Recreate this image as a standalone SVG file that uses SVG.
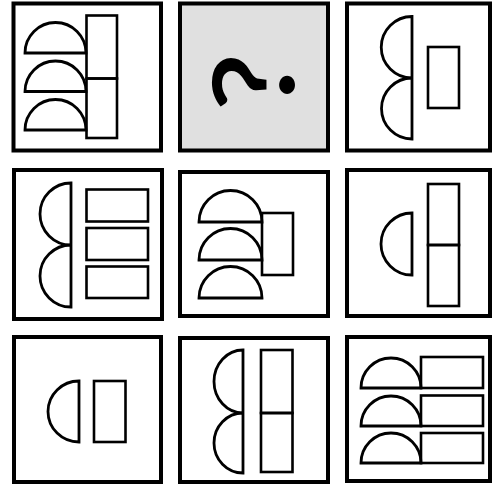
<svg xmlns="http://www.w3.org/2000/svg" width="493" height="491" viewBox="0 0 493 491">
<style>
.box{fill:#fff;stroke:#000;stroke-width:4}
.q{fill:#e0e0e0}
.s{fill:none;stroke:#000;stroke-width:2.8}
.r{fill:none;stroke:#000;stroke-width:2.6}
</style>
<rect width="493" height="491" fill="#fff"/>
<g id="cell1">
<rect class="box" x="13.5" y="3.5" width="147.5" height="147"/>
<path class="s" d="M25,53 A30.5,30.5 0 0 1 86,53 Z"/>
<path class="s" d="M25,91.5 A30.5,30.5 0 0 1 86,91.5 Z"/>
<path class="s" d="M25,130 A30.5,30.5 0 0 1 86,130 Z"/>
<rect class="r" x="86.5" y="15.5" width="30.5" height="63"/>
<rect class="r" x="86.5" y="78.5" width="30.5" height="59.5"/>
</g>
<g id="cell2">
<rect class="box q" x="180" y="3.5" width="148" height="147"/>
<text transform="translate(254,82) rotate(-90) scale(1.15,1)" x="0" y="39" text-anchor="middle" font-family="Lato, 'Liberation Sans', sans-serif" font-weight="normal" font-size="110" stroke="#000" stroke-width="2">?</text>
</g>
<g id="cell3">
<rect class="box" x="347" y="3.5" width="143" height="147"/>
<path class="s" d="M412,16.5 A30.5,30.5 0 0 0 412,78 A30.5,30.5 0 0 0 412,139 Z"/>
<rect class="r" x="428" y="47" width="31" height="61"/>
</g>
<g id="cell4">
<rect class="box" x="14" y="170" width="148" height="149"/>
<path class="s" d="M71,183 A31,31 0 0 0 71,245 A31,31 0 0 0 71,307 Z"/>
<rect class="r" x="86.5" y="189.5" width="61.5" height="32"/>
<rect class="r" x="86.5" y="228" width="61.5" height="32"/>
<rect class="r" x="86.5" y="266.5" width="61.5" height="31.5"/>
</g>
<g id="cell5">
<rect class="box" x="180" y="172" width="148" height="144"/>
<path class="s" d="M199,222 A31.5,31.5 0 0 1 262,222 Z"/>
<path class="s" d="M199,260 A31.5,31.5 0 0 1 262,260 Z"/>
<path class="s" d="M199,298 A31.5,31.5 0 0 1 262,298 Z"/>
<rect class="r" x="262" y="213" width="31" height="62"/>
</g>
<g id="cell6">
<rect class="box" x="347" y="170" width="143" height="146"/>
<path class="s" d="M412,213 A31,31 0 0 0 412,275 Z"/>
<rect class="r" x="428" y="184" width="31" height="61"/>
<rect class="r" x="428" y="245" width="31" height="61"/>
</g>
<g id="cell7">
<rect class="box" x="14" y="337" width="147" height="145"/>
<path class="s" d="M79,381 A31,30.5 0 0 0 79,442 Z"/>
<rect class="r" x="94" y="381" width="31.5" height="61"/>
</g>
<g id="cell8">
<rect class="box" x="180" y="338" width="148" height="144"/>
<path class="s" d="M243,350 A29,31.5 0 0 0 243,413 A29,30 0 0 0 243,473 Z"/>
<rect class="r" x="261" y="350" width="31.5" height="63"/>
<rect class="r" x="261" y="413" width="31.5" height="59"/>
</g>
<g id="cell9">
<rect class="box" x="347" y="337" width="143" height="144"/>
<path class="s" d="M361,388 A30,30 0 0 1 421,388 Z"/>
<path class="s" d="M361,426 A30,30 0 0 1 421,426 Z"/>
<path class="s" d="M361,463 A30,30 0 0 1 421,463 Z"/>
<rect class="r" x="421" y="357" width="62" height="31"/>
<rect class="r" x="421" y="395.5" width="62" height="30.5"/>
<rect class="r" x="421" y="433" width="62" height="30"/>
</g>
</svg>
